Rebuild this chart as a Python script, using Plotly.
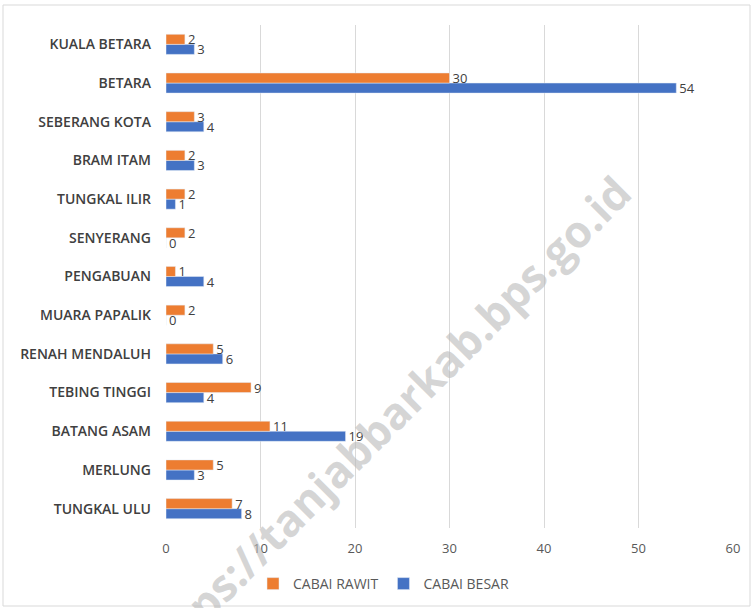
import plotly.graph_objects as go

categories = ["TUNGKAL ULU", "MERLUNG", "BATANG ASAM", "TEBING TINGGI", "RENAH MENDALUH",
              "MUARA PAPALIK", "PENGABUAN", "SENYERANG", "TUNGKAL ILIR", "BRAM ITAM",
              "SEBERANG KOTA", "BETARA", "KUALA BETARA"]
cabai_rawit = [7, 5, 11, 9, 5, 2, 1, 2, 2, 2, 3, 30, 2]
cabai_besar = [8, 3, 19, 4, 6, 0, 4, 0, 1, 3, 4, 54, 3]
x_ticks = [0, 10, 20, 30, 40, 50, 60]

font_family = "Open Sans, Liberation Sans, sans-serif"
label_color = "#404040"

fig = go.Figure()
fig.add_trace(go.Bar(
    y=categories, x=cabai_besar, name="CABAI BESAR", orientation="h",
    marker_color="#4472C4", text=cabai_besar, textposition="outside",
    constraintext="none",
    textfont=dict(size=13, color=label_color, family=font_family), cliponaxis=False,
))
fig.add_trace(go.Bar(
    y=categories, x=cabai_rawit, name="CABAI RAWIT", orientation="h",
    marker_color="#ED7D31", text=cabai_rawit, textposition="outside",
    constraintext="none",
    textfont=dict(size=13, color=label_color, family=font_family), cliponaxis=False,
))

fig.update_layout(
    width=752, height=608,
    margin=dict(l=166, r=19, t=25, b=80, autoexpand=False),
    barmode="group", bargap=0.48, bargroupgap=0,
    plot_bgcolor="white", paper_bgcolor="white",
    font=dict(family=font_family, color="#595959"),
    legend=dict(orientation="h", xref="container", yref="container",
                x=0.51, xanchor="center", y=(608 - 584) / 608, yanchor="middle",
                traceorder="reversed", font=dict(size=14, color="#595959"),
                itemwidth=30),
    xaxis=dict(range=[0, 60], tickvals=x_ticks, showgrid=True, gridcolor="#d9d9d9",
               gridwidth=1, zeroline=False, showline=False, automargin=False,
               ticks="outside", ticklen=8, tickcolor="rgba(0,0,0,0)",
               tickfont=dict(size=13, color="#595959")),
    yaxis=dict(categoryorder="array", categoryarray=categories, showgrid=False,
               showline=False, zeroline=False, automargin=False,
               tickfont=dict(size=14, color="#404040", family=font_family, weight=600),
               ticklabelstandoff=14),
    showlegend=True,
)

# outer chart border
fig.add_shape(type="rect", xref="paper", yref="paper",
              x0=(3 - 166) / 567, x1=(750 - 166) / 567,
              y0=(528 - 606) / 503, y1=(528 - 5) / 503,
              line=dict(color="#d9d9d9", width=1), layer="below")

# watermark
fig.add_annotation(text="https://tanjabbarkab.bps.go.id", xref="paper", yref="paper",
                   x=(384 - 166) / 567, y=(528 - 422) / 503, xanchor="center", yanchor="middle",
                   showarrow=False, textangle=-45,
                   font=dict(size=44, color="rgba(185,185,185,0.6)",
                             family="Open Sans, sans-serif", weight="bold"))

fig.write_html("out.html", config={"displayModeBar": False},
               post_script="document.body.style.margin='0';document.body.style.overflow='hidden';")
